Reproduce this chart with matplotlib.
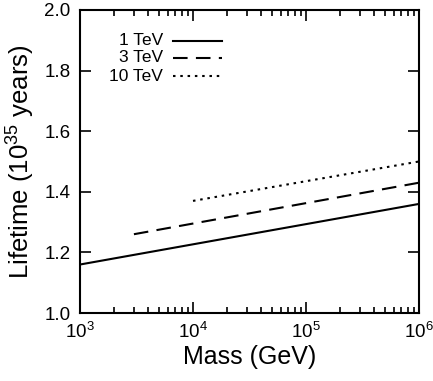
import matplotlib
matplotlib.use("Agg")
import matplotlib.pyplot as plt
from matplotlib.lines import Line2D

plt.rcParams['font.family'] = ['Liberation Sans', 'DejaVu Sans']
plt.rcParams['mathtext.fontset'] = 'custom'
plt.rcParams['mathtext.rm'] = 'Liberation Sans'

mass_1tev = [1e3, 1e6]
life_1tev = [1.16, 1.36]
mass_3tev = [3e3, 1e6]
life_3tev = [1.26, 1.43]
mass_10tev = [1e4, 1e6]
life_10tev = [1.37, 1.50]
labels = ['1 TeV', '3 TeV', '10 TeV']

fig = plt.figure(figsize=(4.33, 3.81), dpi=100)
ax = fig.add_axes([80/433, 1-313/381, (419-80)/433, (313-10)/381])

styles = [dict(ls='-'), dict(dashes=(7, 4)), dict(dashes=(1.2, 2.3))]
series = [(mass_1tev, life_1tev), (mass_3tev, life_3tev), (mass_10tev, life_10tev)]
for (m, l), st, lab in zip(series, styles, labels):
    ax.plot(m, l, color='k', lw=1.5, label=lab, **st)

ax.set_xscale('log')
ax.set_xlim(1e3, 1e6)
ax.set_ylim(1.0, 2.0)
ax.set_yticks([1.0, 1.2, 1.4, 1.6, 1.8, 2.0])
ax.set_yticklabels(['1.0', '1.2', '1.4', '1.6', '1.8', '2.0'])
ax.set_xticks([1e3, 1e4, 1e5, 1e6])
ax.set_xticklabels([r'$10^3$', r'$10^4$', r'$10^5$', r'$10^6$'])

ax.tick_params(which='both', direction='in', top=True, right=True, labelsize=13.5, width=1.2)
ax.tick_params(which='major', length=8)
ax.tick_params(which='minor', length=4.5)
ax.tick_params(axis='x', pad=6)
ax.tick_params(axis='y', pad=7)
for s in ax.spines.values():
    s.set_linewidth(1.5)

ax.set_xlabel('Mass (GeV)', fontsize=18, labelpad=2)
ax.set_ylabel(r'Lifetime ($10^{35}$ years)', fontsize=18.5, labelpad=6)

# gnuplot-style key: label right-aligned, sample line after it
rows_y = [0.898, 0.842, 0.782]
for (m, l), st, lab, yy in zip(series, styles, labels, rows_y):
    ax.text(0.245, yy, lab, transform=ax.transAxes, ha='right', va='center', fontsize=12.5)
    ax.add_line(Line2D([0.274, 0.419], [yy, yy], transform=ax.transAxes, color='k', lw=1.5, **st))

fig.savefig('out.png', dpi=100)
